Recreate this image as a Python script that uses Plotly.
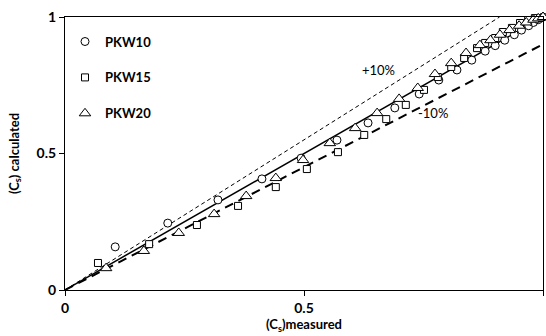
import plotly.graph_objects as go

# PKW10 (circles)
pkw10_x = [0.105, 0.215, 0.32, 0.412, 0.494, 0.569, 0.634, 0.69, 0.741, 0.782, 0.82, 0.851,
           0.879, 0.90, 0.92, 0.94, 0.955, 0.97, 0.98, 0.99, 1.0]
pkw10_y = [0.158, 0.245, 0.33, 0.407, 0.483, 0.549, 0.612, 0.667, 0.718, 0.769, 0.806, 0.842,
           0.875, 0.895, 0.915, 0.935, 0.952, 0.968, 0.98, 0.99, 1.0]
# PKW15 (squares)
pkw15_x = [0.069, 0.176, 0.276, 0.362, 0.441, 0.506, 0.571, 0.626, 0.672, 0.713, 0.751, 0.78,
           0.808, 0.835, 0.862, 0.879, 0.90, 0.916, 0.935, 0.952, 0.969, 0.983, 0.994]
pkw15_y = [0.099, 0.168, 0.238, 0.308, 0.377, 0.443, 0.505, 0.568, 0.626, 0.678, 0.733, 0.78,
           0.817, 0.85, 0.886, 0.905, 0.923, 0.945, 0.96, 0.978, 0.989, 0.996, 0.996]
# PKW20 (triangles)
pkw20_x = [0.086, 0.165, 0.238, 0.312, 0.379, 0.441, 0.498, 0.554, 0.607, 0.653, 0.699, 0.738,
           0.774, 0.808, 0.839, 0.868, 0.89, 0.91, 0.93, 0.95, 0.965, 0.98, 0.99, 1.0]
pkw20_y = [0.08, 0.143, 0.209, 0.278, 0.344, 0.41, 0.476, 0.538, 0.593, 0.648, 0.70, 0.74,
           0.791, 0.831, 0.868, 0.897, 0.915, 0.935, 0.952, 0.968, 0.98, 0.99, 0.995, 1.0]

# reference lines
line_x = [0, 1]
plus10_x = [0, 1 / 1.1]
plus10_y = [0, 1]
minus10_y = [0, 0.9]

tick_vals = [0, 0.5, 1]
tick_text = ["<b>0</b>", "<b>0.5</b>", "<b>1</b>"]

FONT = "Lato"

fig = go.Figure()
fig.add_trace(go.Scatter(x=plus10_x, y=plus10_y, mode="lines",
                         line=dict(color="black", width=1, dash="4px,3px"), showlegend=False))
fig.add_trace(go.Scatter(x=line_x, y=line_x, mode="lines",
                         line=dict(color="black", width=1.5), showlegend=False))
fig.add_trace(go.Scatter(x=line_x, y=minus10_y, mode="lines",
                         line=dict(color="black", width=2, dash="9px,6px"), showlegend=False))

mk = dict(color="white", line=dict(color="black", width=1))
fig.add_trace(go.Scatter(x=pkw10_x, y=pkw10_y, mode="markers", name="<b>PKW10</b>",
                         legendgroup="a", cliponaxis=False,
                         marker=dict(symbol="circle", size=8, **mk)))
fig.add_trace(go.Scatter(x=pkw15_x, y=pkw15_y, mode="markers", name="<b>PKW15</b>",
                         legendgroup="b", cliponaxis=False,
                         marker=dict(symbol="square", size=7, **mk)))
fig.add_trace(go.Scatter(x=pkw20_x, y=pkw20_y, mode="markers", name="<b>PKW20</b>",
                         legendgroup="c", cliponaxis=False,
                         marker=dict(symbol="triangle-up", size=10, **mk)))

fig.add_annotation(x=0.655, y=0.806, text="+10%", showarrow=False,
                   font=dict(family=FONT, size=13, color="black"))
fig.add_annotation(x=0.77, y=0.648, text="-10%", showarrow=False,
                   font=dict(family=FONT, size=13, color="black"))

axis_common = dict(range=[0, 1], tickvals=tick_vals, ticktext=tick_text, ticks="outside",
                   ticklen=5, tickcolor="black", showline=True, linecolor="black",
                   linewidth=1, mirror=True, showgrid=False, zeroline=False,
                   tickfont=dict(family=FONT, size=14, color="black"))

fig.update_layout(
    width=546, height=336,
    margin=dict(l=65, r=3, t=17, b=46),
    paper_bgcolor="white", plot_bgcolor="white",
    font=dict(family=FONT, color="black"),
    xaxis=dict(title=dict(text="<b>(C<sub>s</sub>)measured</b>", standoff=4,
                          font=dict(family=FONT, size=13)), **axis_common),
    yaxis=dict(title=dict(text="<b>(C<sub>s</sub>) calculated</b>", standoff=14,
                          font=dict(family=FONT, size=13)), **axis_common),
    legend=dict(x=0.0, y=0.965, xanchor="left", yanchor="top", bgcolor="rgba(0,0,0,0)",
                tracegroupgap=16, font=dict(family=FONT, size=13, color="black"),
                itemwidth=30),
)

fig.write_html("out.html")
